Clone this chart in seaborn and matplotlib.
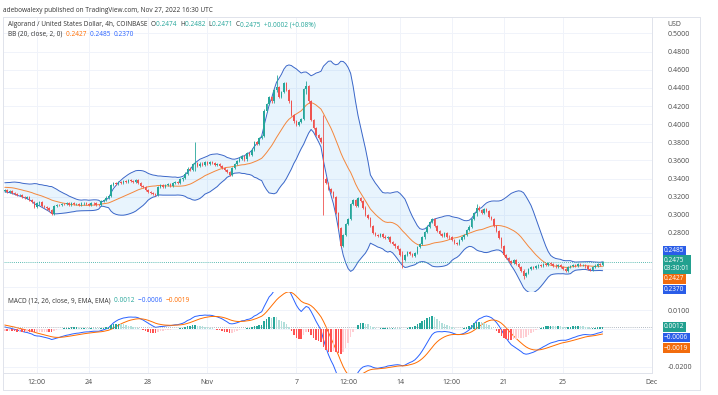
import matplotlib
matplotlib.use("Agg")
import matplotlib.dates as mdates
import matplotlib.pyplot as plt
import numpy as np
import pandas as pd
import seaborn as sns
from matplotlib.ticker import FuncFormatter

# ALGO/USD 4h closes (Oct 18 08:00 -> Nov 27 16:00 UTC)
closes = [
    0.3272, 0.3255, 0.3262, 0.3240, 0.3228, 0.3215,
    0.3220, 0.3198, 0.3185, 0.3192, 0.3160, 0.3145,
    0.3090, 0.3125, 0.3138, 0.3100, 0.3085, 0.3070,
    0.3050, 0.3012, 0.3098, 0.3110, 0.3105, 0.3120,
    0.3115, 0.3125, 0.3110, 0.3128, 0.3118, 0.3122,
    0.3110, 0.3125, 0.3132, 0.3120, 0.3108, 0.3130,
    0.3125, 0.3112, 0.3105, 0.3150, 0.3165, 0.3190,
    0.3205, 0.3330, 0.3355, 0.3345, 0.3362, 0.3350,
    0.3370, 0.3358, 0.3380, 0.3372, 0.3365, 0.3385,
    0.3350, 0.3320, 0.3305, 0.3270, 0.3255, 0.3240,
    0.3225, 0.3218, 0.3310, 0.3325, 0.3305, 0.3330,
    0.3340, 0.3318, 0.3352, 0.3365, 0.3348, 0.3390,
    0.3410, 0.3455, 0.3510, 0.3490, 0.3560, 0.3575,
    0.3540, 0.3565, 0.3552, 0.3580, 0.3560, 0.3585,
    0.3570, 0.3545, 0.3560, 0.3535, 0.3520, 0.3490,
    0.3470, 0.3440, 0.3515, 0.3560, 0.3590, 0.3620,
    0.3650, 0.3610, 0.3680, 0.3660, 0.3720, 0.3800,
    0.3780, 0.3850, 0.3870, 0.4150, 0.4220, 0.4300,
    0.4250, 0.4380, 0.4410, 0.4300, 0.4350, 0.4450,
    0.4380, 0.4250, 0.4100, 0.4030, 0.3990, 0.4020,
    0.4060, 0.4390, 0.4420, 0.4250, 0.4050, 0.3960,
    0.3880, 0.3850, 0.3800, 0.3400, 0.3350, 0.3280,
    0.3250, 0.3200, 0.3020, 0.2850, 0.2660, 0.2780,
    0.2900, 0.2950, 0.3120, 0.3160, 0.3100, 0.3180,
    0.3150, 0.3080, 0.3000, 0.2960, 0.2880, 0.2800,
    0.2780, 0.2770, 0.2790, 0.2760, 0.2740, 0.2750,
    0.2700, 0.2680, 0.2650, 0.2620, 0.2560, 0.2500,
    0.2560, 0.2590, 0.2570, 0.2550, 0.2580, 0.2640,
    0.2680, 0.2750, 0.2810, 0.2870, 0.2920, 0.2950,
    0.2880, 0.2820, 0.2790, 0.2770, 0.2800, 0.2760,
    0.2750, 0.2720, 0.2690, 0.2680, 0.2720, 0.2750,
    0.2780, 0.2830, 0.2870, 0.2950, 0.3020, 0.3080,
    0.3050, 0.3020, 0.3060, 0.3040, 0.2980, 0.2950,
    0.2880, 0.2820, 0.2740, 0.2650, 0.2560, 0.2520,
    0.2490, 0.2470, 0.2500, 0.2460, 0.2420, 0.2380,
    0.2320, 0.2360, 0.2400, 0.2420, 0.2410, 0.2430,
    0.2450, 0.2440, 0.2460, 0.2450, 0.2470, 0.2460,
    0.2440, 0.2430, 0.2450, 0.2420, 0.2400, 0.2380,
    0.2420, 0.2435, 0.2450, 0.2440, 0.2460, 0.2445,
    0.2450, 0.2430, 0.2400, 0.2390, 0.2420, 0.2440,
    0.2460, 0.2450, 0.2475,
]

# bars before the visible window, only used to warm up BB / MACD
warmup = [
    0.3150, 0.3165, 0.3140, 0.3172, 0.3185, 0.3160,
    0.3178, 0.3195, 0.3182, 0.3205, 0.3190, 0.3215,
    0.3230, 0.3212, 0.3248, 0.3265, 0.3250, 0.3282,
    0.3300, 0.3285, 0.3320, 0.3345, 0.3330, 0.3352,
    0.3338, 0.3310, 0.3325, 0.3298, 0.3315, 0.3290,
    0.3305, 0.3280, 0.3295, 0.3270, 0.3288, 0.3265,
]

# long wicks visible on the chart: visible bar index -> (high, low)
long_wicks = {
    77: (0.3800, 0.3480),
    110: (0.4540, 0.4350),
    122: (0.4480, 0.4330),
    129: (0.4100, 0.3000),
    161: (0.2600, 0.2410),
    191: (0.3120, 0.2990),
    210: (0.2400, 0.2290),
}

x_tick_dates = ["2022-10-20 12:00", "2022-10-24 00:00", "2022-10-28 00:00", "2022-11-01 00:00",
                "2022-11-07 00:00", "2022-11-10 12:00", "2022-11-14 00:00", "2022-11-17 12:00",
                "2022-11-21 00:00", "2022-11-25 00:00", "2022-12-01 00:00"]
x_tick_labels = ["12:00", "24", "28", "Nov", "7", "12:00", "14", "12:00", "21", "25", "Dec"]
price_ticks = [0.22, 0.24, 0.26, 0.28, 0.30, 0.32, 0.34, 0.36, 0.38, 0.40,
               0.42, 0.44, 0.46, 0.48, 0.50]
macd_ticks = [0.01, 0.0, -0.01, -0.02]
# scale labels that sit under the last-value tags
hidden_price = [0.22, 0.24, 0.26]
hidden_macd = [0.0, -0.01]

UP, DOWN = "#26a69a", "#ef5350"
BLUE, ORANGE = "#2962ff", "#ff6d00"
TXT = "#4a4a4a"
FS = 4.7

sns.set_theme(style="white")
plt.rcParams["font.family"] = ["Open Sans", "DejaVu Sans"]

# ---- build series + indicators
allc = pd.Series(warmup + closes, dtype=float)
dates = pd.date_range(end="2022-11-27 16:00", periods=len(allc), freq="4h")
allc.index = dates

basis = allc.rolling(20).mean()
dev = allc.rolling(20).std(ddof=0)
upper, lower = basis + 2 * dev, basis - 2 * dev

macd = allc.ewm(span=12, adjust=False).mean() - allc.ewm(span=26, adjust=False).mean()
signal = macd.ewm(span=9, adjust=False).mean()
hist = macd - signal

nw = len(warmup)
df = pd.DataFrame({
    "x": mdates.date2num(dates),
    "close": allc.values,
    "open": allc.shift(1).values,
    "basis": basis.values, "upper": upper.values, "lower": lower.values,
    "macd": macd.values, "signal": signal.values, "hist": hist.values,
})
df = df.iloc[nw:].reset_index(drop=True)

wick = 0.0012
df["high"] = df[["open", "close"]].max(axis=1) + wick
df["low"] = df[["open", "close"]].min(axis=1) - wick
for i, (h, l) in long_wicks.items():
    df.loc[i, "high"] = h
    df.loc[i, "low"] = l

W, H = 718, 395
fig = plt.figure(figsize=(W / 100, H / 100), dpi=100)
fig.patch.set_facecolor("white")


def frac(x0, y0, x1, y1):
    return [x0 / W, 1 - y1 / H, (x1 - x0) / W, (y1 - y0) / H]


ax = fig.add_axes(frac(3, 17, 652, 292))
axm = fig.add_axes(frac(3, 292, 652, 373), sharex=ax)

# ---- price pane
ax.fill_between(df["x"], df["lower"], df["upper"], color="#2196f3", alpha=0.1, lw=0)
sns.lineplot(data=df, x="x", y="upper", ax=ax, color="#3a66c8", lw=0.7)
sns.lineplot(data=df, x="x", y="lower", ax=ax, color="#3a66c8", lw=0.7)
sns.lineplot(data=df, x="x", y="basis", ax=ax, color="#f4873c", lw=0.7)

cw = 4 / 24 * 0.62
col = np.where(df["close"] >= df["open"], UP, DOWN)
ax.vlines(df["x"], df["low"], df["high"], colors=col, lw=0.6, zorder=3)
body = (df["close"] - df["open"]).abs().clip(lower=0.0004)
ax.bar(df["x"], body, bottom=df[["open", "close"]].min(axis=1), width=cw,
       color=col, lw=0, zorder=4)
ax.axhline(closes[-1], color=UP, lw=0.6, ls=(0, (1, 1.5)), zorder=2)

x0 = df["x"].iloc[0] - 0.12
x1 = df["x"].iloc[-1] + 3.3
ax.set_xlim(x0, x1)
ax.set_ylim(0.2148, 0.5182)
ax.set_yticks(price_ticks)
ax.yaxis.set_major_formatter(FuncFormatter(
    lambda v, p: "" if any(abs(v - h) < 1e-6 for h in hidden_price) else f"{v:.4f}"))

# ---- MACD pane
prev = df["hist"].shift(1)
hcol = np.where(df["hist"] >= 0,
                np.where(df["hist"] > prev, "#26a69a", "#b2dfdb"),
                np.where(df["hist"] < prev, "#ff5252", "#ffcdd2"))
axm.bar(df["x"], df["hist"], width=cw, color=hcol, lw=0, zorder=3)
sns.lineplot(data=df, x="x", y="macd", ax=axm, color=BLUE, lw=0.7)
sns.lineplot(data=df, x="x", y="signal", ax=axm, color=ORANGE, lw=0.7)
axm.axhline(df["hist"].iloc[-1], color="#9aa5b0", lw=0.6, ls=(0, (1, 1.5)), zorder=2)
axm.set_ylim(-0.0232, 0.0197)
axm.set_yticks(macd_ticks)
axm.yaxis.set_major_formatter(FuncFormatter(
    lambda v, p: "" if any(abs(v - h) < 1e-6 for h in hidden_macd) else f"{v:.4f}"))

tick_x = mdates.date2num(pd.to_datetime(x_tick_dates, format="%Y-%m-%d %H:%M"))
axm.set_xticks(tick_x)
axm.set_xticklabels(x_tick_labels)

for a in (ax, axm):
    a.set_xlabel("")
    a.set_ylabel("")
    a.yaxis.tick_right()
    a.grid(True, color="#f0f3fa", lw=0.7)
    a.set_axisbelow(True)
    a.tick_params(axis="both", length=0, labelsize=5, labelcolor=TXT)
    a.tick_params(axis="y", pad=11)
    a.tick_params(axis="x", pad=4)
    for s in a.spines.values():
        s.set_color("#e0e3eb")
        s.set_linewidth(0.7)
ax.tick_params(axis="x", labelbottom=False)
axm.spines["top"].set_visible(False)

# outer frame of the chart
frame = "#e0e3eb"
fig.add_artist(plt.Line2D([700 / W, 700 / W], [1 - 17 / H, 1 - 390 / H], color=frame, lw=0.7))
fig.add_artist(plt.Line2D([652 / W, 700 / W], [1 - 17 / H, 1 - 17 / H], color=frame, lw=0.7))
fig.add_artist(plt.Line2D([3 / W, 700 / W], [1 - 390 / H, 1 - 390 / H], color=frame, lw=0.7))
fig.add_artist(plt.Line2D([3 / W, 3 / W], [1 - 373 / H, 1 - 390 / H], color=frame, lw=0.7))

# ---- texts
fig.text(3 / W, 1 - 10 / H, "adebowalexy published on TradingView.com, Nov 27, 2022 16:30 UTC",
         fontsize=FS, color="#333333", va="center")
fig.text(667 / W, 1 - 24 / H, "USD", fontsize=5, color=TXT, va="center")

renderer = fig.canvas.get_renderer()


def legend_line(x, y, parts):
    for txt, c in parts:
        t = fig.text(x / W, 1 - y / H, txt, fontsize=FS, color=c, va="center")
        bb = t.get_window_extent(renderer)
        x += bb.width


legend_line(8, 25, [("Algorand / United States Dollar, 4h, COINBASE  ", "#333333"),
                    ("O", "#333333"), ("0.2474  ", UP), ("H", "#333333"), ("0.2482  ", UP),
                    ("L", "#333333"), ("0.2471  ", UP), ("C", "#333333"),
                    ("0.2475  +0.0002 (+0.08%)", UP)])
legend_line(8, 34, [("BB (20, close, 2, 0)  ", "#333333"), ("0.2427  ", ORANGE),
                    ("0.2485  ", BLUE), ("0.2370", BLUE)])
legend_line(8, 301, [("MACD (12, 26, close, 9, EMA, EMA)  ", "#333333"), ("0.0012  ", UP),
                     ("\u22120.0006  ", BLUE), ("\u22120.0019", ORANGE)])


def tag(y, txt, c):
    fig.text(664 / W, 1 - y / H, txt, fontsize=FS, color="white", va="center", ha="left",
             linespacing=1.25, bbox=dict(boxstyle="square,pad=0.22", fc=c, ec="none"), zorder=5)


tag(250.5, "0.2485", "#2a5de8")
tag(264.5, "0.2475\n03:30:01", "#22a08f")
tag(279, "0.2427", "#f26c0d")
tag(289.5, "0.2370", "#2a5de8")
tag(327, "0.0012", "#22a08f")
tag(337.5, "\u22120.0006", "#2a5de8")
tag(348, "\u22120.0019", "#f26c0d")

fig.savefig("out.png", dpi=100)
